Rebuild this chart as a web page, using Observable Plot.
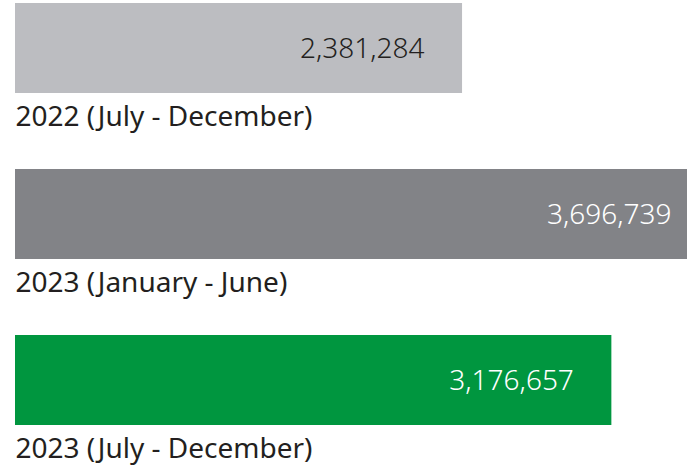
<!DOCTYPE html>
<html>
<head>
<meta charset="utf-8">
<script src="https://cdn.jsdelivr.net/npm/d3@7"></script>
<script src="https://cdn.jsdelivr.net/npm/@observablehq/plot@0.6"></script>
<style>
  html, body { margin: 0; padding: 0; background: #fff; }
  svg { overflow: hidden; }
</style>
</head>
<body>
<div id="chart"></div>
<script>
const periods = ["2022 (July - December)", "2023 (January - June)", "2023 (July - December)"];
const values = [2381284, 3696739, 3176657];
const barColors = ["#bcbdc1", "#828387", "#00963f"];
const textColors = ["#231f20", "#ffffff", "#ffffff"];

const data = periods.map((p, i) => ({period: p, value: values[i], fill: barColors[i], ink: textColors[i]}));
const fmt = d3.format(",");

const chart = Plot.plot({
  width: 687,
  height: 467,
  margin: 0,
  x: {domain: [0, 3696739], range: [15, 709], axis: null},
  y: {domain: periods, range: [3, 425], paddingInner: 0.458, paddingOuter: 0, axis: null},
  style: {fontFamily: "Noto Sans, sans-serif", background: "#fff"},
  marks: [
    Plot.barX(data, {x: "value", y: "period", fill: d => d.fill}),
    Plot.text(data, {
      x: "value", y: "period", text: d => fmt(d.value),
      textAnchor: "end", dx: -38, dy: 1, fill: d => d.ink,
      fontSize: 28, fontWeight: 300
    }),
    Plot.text(data, {
      x: 0, y: "period", text: "period",
      textAnchor: "start", dy: 69, fill: "#231f20",
      fontSize: 28, fontWeight: 400
    })
  ]
});
document.getElementById("chart").appendChild(chart);
</script>
</body>
</html>
